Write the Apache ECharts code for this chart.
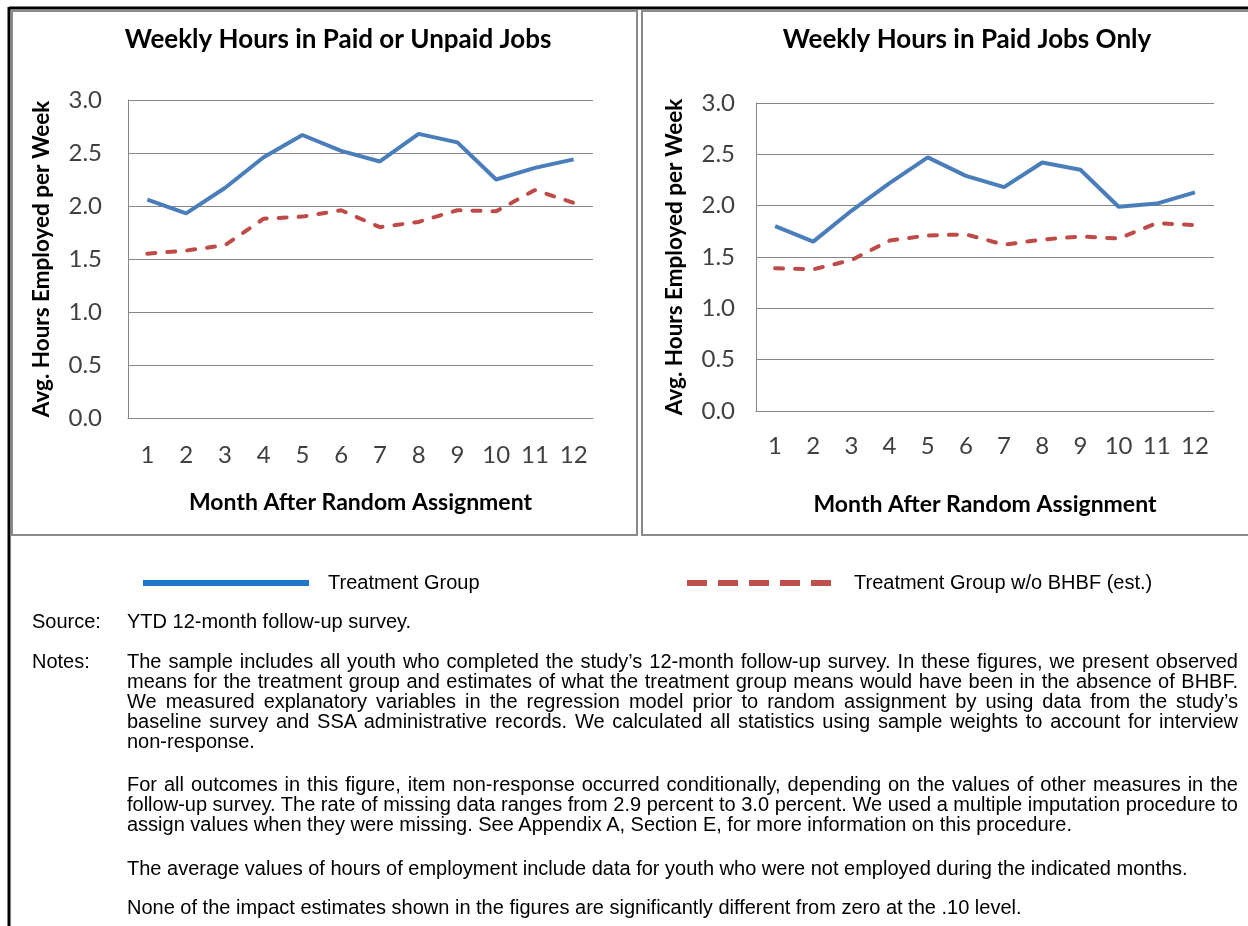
<!DOCTYPE html>
<html>
<head>
<meta charset="utf-8">
<script src="https://cdn.jsdelivr.net/npm/echarts@6/dist/echarts.min.js"></script>
<style>
  html, body { margin: 0; padding: 0; background: #fff; }
  #chart { position: absolute; left: 0; top: 0; width: 1248px; height: 926px; }
  .note { position: absolute; font-family: "Liberation Sans", Arial, sans-serif; font-size: 20px; line-height: 20px; color: #000; }
  .note p { margin: 0 0 23px 0; text-align: justify; }
</style>
</head>
<body>
<div id="chart"></div>
<div class="note" style="left:32px; top:611px">Source:</div>
<div class="note" style="left:127px; top:611px">YTD 12-month follow-up survey.</div>
<div class="note" style="left:32px; top:651px">Notes:</div>
<div class="note" style="left:127px; top:651px; width:1111px">
  <p>The sample includes all youth who completed the study’s 12-month follow-up survey. In these figures, we present observed means for the treatment group and estimates of what the treatment group means would have been in the absence of BHBF. We measured explanatory variables in the regression model prior to random assignment by using data from the study’s baseline survey and SSA administrative records. We calculated all statistics using sample weights to account for interview non-response.</p>
  <p style="margin-bottom:24px">For all outcomes in this figure, item non-response occurred conditionally, depending on the values of other measures in the follow-up survey. The rate of missing data ranges from 2.9 percent to 3.0 percent. We used a multiple imputation procedure to assign values when they were missing. See Appendix A, Section E, for more information on this procedure.</p>
  <p style="margin-bottom:19px">The average values of hours of employment include data for youth who were not employed during the indicated months.</p>
  <p>None of the impact estimates shown in the figures are significantly different from zero at the .10 level.</p>
</div>
<script>
// months after random assignment
const months = ['1', '2', '3', '4', '5', '6', '7', '8', '9', '10', '11', '12']

// weekly hours in paid or unpaid jobs
const allJobsTreatment = [2.06, 1.93, 2.17, 2.46, 2.67, 2.52, 2.42, 2.68, 2.60, 2.25, 2.36, 2.44]
const allJobsNoBhbf = [1.55, 1.58, 1.63, 1.88, 1.90, 1.96, 1.80, 1.85, 1.96, 1.95, 2.15, 2.03]

// weekly hours in paid jobs only
const paidJobsTreatment = [1.80, 1.65, 1.95, 2.22, 2.47, 2.29, 2.18, 2.42, 2.35, 1.99, 2.02, 2.13]
const paidJobsNoBhbf = [1.39, 1.38, 1.47, 1.66, 1.71, 1.72, 1.62, 1.67, 1.70, 1.68, 1.83, 1.81]

const panelTitles = ['Weekly Hours in Paid or Unpaid Jobs', 'Weekly Hours in Paid Jobs Only']
const seriesNames = ['Treatment Group', 'Treatment Group w/o BHBF (est.)']

const blue = '#4a7ebb'
const red = '#be4b48'
const gridColor = '#868686'
const calibriLike = 'Lato, "Open Sans", sans-serif'

const chart = echarts.init(document.getElementById('chart'), null, { renderer: 'canvas' })

// x / y axes for one panel
function makeXAxis(gridIndex, labelMargin, nameGap) {
  return {
    type: 'category',
    gridIndex,
    data: months,
    boundaryGap: true,
    axisLine: { lineStyle: { color: gridColor, width: 1 } },
    axisTick: { show: false },
    axisLabel: { fontFamily: calibriLike, fontSize: 24, color: '#404040', margin: labelMargin },
    name: 'Month After Random Assignment',
    nameLocation: 'middle',
    nameGap,
    nameTextStyle: { fontFamily: calibriLike, fontWeight: 'bold', fontSize: 23, color: '#000' }
  }
}

function makeYAxis(gridIndex, labelMargin, nameGap) {
  return {
    type: 'value',
    gridIndex,
    min: 0,
    max: 3,
    interval: 0.5,
    axisLine: { show: true, lineStyle: { color: gridColor, width: 1 } },
    axisTick: { show: false },
    splitLine: { lineStyle: { color: gridColor, width: 1 } },
    axisLabel: {
      fontFamily: calibriLike, fontSize: 24, color: '#404040', margin: labelMargin,
      formatter: (v) => v.toFixed(1)
    },
    name: 'Avg. Hours Employed per Week',
    nameLocation: 'middle',
    nameGap,
    nameTextStyle: { fontFamily: calibriLike, fontWeight: 'bold', fontSize: 22.5, color: '#000' }
  }
}

function makeLine(name, data, idx, dashed) {
  return {
    type: 'line',
    name,
    xAxisIndex: idx,
    yAxisIndex: idx,
    data,
    symbol: 'none',
    silent: true,
    lineStyle: dashed
      ? { color: red, width: 4, type: [8, 12], cap: 'round' }
      : { color: blue, width: 4 },
    itemStyle: { color: dashed ? red : blue }
  }
}

const legendText = { fontFamily: '"Liberation Sans", Arial, sans-serif', fontSize: 20, color: '#000' }

chart.setOption({
  animation: false,
  backgroundColor: '#fff',
  grid: [
    { left: 128, top: 100, width: 465, height: 318 },
    { left: 756, top: 103, width: 458, height: 308 }
  ],
  xAxis: [makeXAxis(0, 25, 73), makeXAxis(1, 23, 82)],
  yAxis: [makeYAxis(0, 26, 75), makeYAxis(1, 21, 70)],
  legend: [
    {
      data: [seriesNames[0]],
      left: 140,
      top: 573,
      padding: 0,
      itemWidth: 166,
      itemHeight: 18,
      selectedMode: false,
      itemStyle: { opacity: 0 },
      textStyle: Object.assign({ padding: [0, 0, 0, 14] }, legendText),
      lineStyle: { color: '#1f77c9', width: 6 }
    },
    {
      data: [seriesNames[1]],
      left: 684,
      top: 573,
      padding: 0,
      itemWidth: 152,
      itemHeight: 18,
      selectedMode: false,
      itemStyle: { opacity: 0 },
      textStyle: Object.assign({ padding: [0, 0, 0, 10] }, legendText),
      lineStyle: { color: '#c0504d', width: 6, type: [20, 11], cap: 'butt' }
    }
  ],
  graphic: [
    // panel frames
    { type: 'rect', silent: true, shape: { x: 12, y: 11, width: 625, height: 524 }, style: { fill: null, stroke: '#8a8a8a', lineWidth: 2 } },
    { type: 'rect', silent: true, shape: { x: 642, y: 11, width: 620, height: 524 }, style: { fill: null, stroke: '#8a8a8a', lineWidth: 2 } },
    // page rules
    { type: 'line', silent: true, shape: { x1: 9, y1: 8, x2: 1248, y2: 8 }, style: { stroke: '#000', lineWidth: 3 } },
    { type: 'line', silent: true, shape: { x1: 9, y1: 7, x2: 9, y2: 926 }, style: { stroke: '#000', lineWidth: 3 } },
    // panel titles
    { type: 'text', silent: true, x: 338, y: 40, style: { text: panelTitles[0], fontFamily: calibriLike, fontWeight: 'bold', fontSize: 26, fill: '#000', align: 'center', verticalAlign: 'middle' } },
    { type: 'text', silent: true, x: 967, y: 40, style: { text: panelTitles[1], fontFamily: calibriLike, fontWeight: 'bold', fontSize: 26, fill: '#000', align: 'center', verticalAlign: 'middle' } }
  ],
  series: [
    makeLine(seriesNames[0], allJobsTreatment, 0, false),
    makeLine(seriesNames[1], allJobsNoBhbf, 0, true),
    makeLine(seriesNames[0], paidJobsTreatment, 1, false),
    makeLine(seriesNames[1], paidJobsNoBhbf, 1, true)
  ]
})
</script>
</body>
</html>
